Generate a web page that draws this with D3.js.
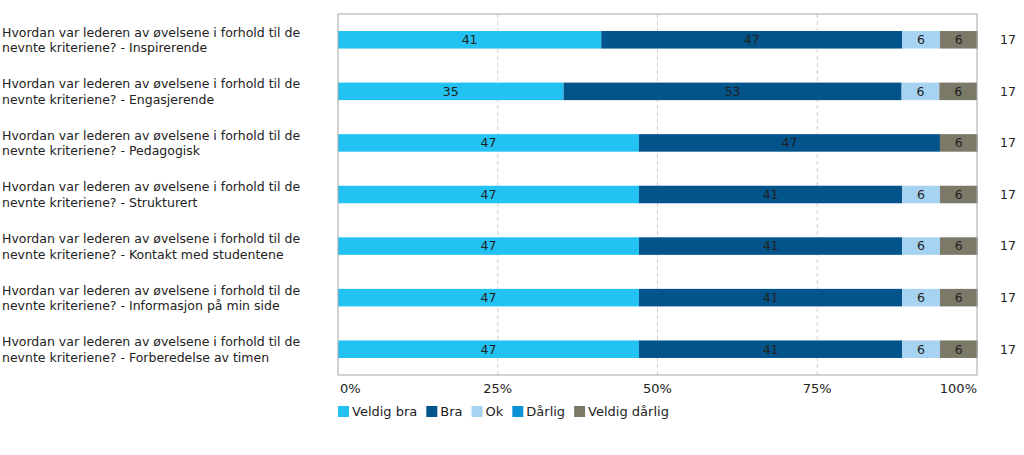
<!DOCTYPE html>
<html><head><meta charset="utf-8">
<script src="https://cdn.jsdelivr.net/npm/d3@7"></script>
<style>body{margin:0;background:#fff}svg{font-family:"DejaVu Sans",Verdana,sans-serif}</style>
</head><body><svg id="c" width="1024" height="455"></svg>
<script>
const categories = [
 ["Hvordan var lederen av øvelsene i forhold til de","nevnte kriteriene? - Inspirerende"],
 ["Hvordan var lederen av øvelsene i forhold til de","nevnte kriteriene? - Engasjerende"],
 ["Hvordan var lederen av øvelsene i forhold til de","nevnte kriteriene? - Pedagogisk"],
 ["Hvordan var lederen av øvelsene i forhold til de","nevnte kriteriene? - Strukturert"],
 ["Hvordan var lederen av øvelsene i forhold til de","nevnte kriteriene? - Kontakt med studentene"],
 ["Hvordan var lederen av øvelsene i forhold til de","nevnte kriteriene? - Informasjon på min side"],
 ["Hvordan var lederen av øvelsene i forhold til de","nevnte kriteriene? - Forberedelse av timen"]
];
const seriesNames = ["Veldig bra","Bra","Ok","Dårlig","Veldig dårlig"];
const colors = ["#22c3f3","#03548a","#a7d3f3","#0b93d8","#7b7a68"];
const veldigBra   = [41.2,35.3,47.1,47.1,47.1,47.1,47.1];
const bra         = [47.1,52.9,47.1,41.2,41.2,41.2,41.2];
const ok          = [5.9,5.9,0,5.9,5.9,5.9,5.9];
const darlig      = [0,0,0,0,0,0,0];
const veldigDarlig= [5.9,5.9,5.9,5.9,5.9,5.9,5.9];
const counts = [17,17,17,17,17,17,17];
const ticks = [0,25,50,75,100];
const tickLabels = ["0%","25%","50%","75%","100%"];

const series = [veldigBra,bra,ok,darlig,veldigDarlig];
const svg = d3.select("#c");
const L=338,R=977,T=14,B=375;
const x = d3.scaleLinear().domain([0,100]).range([L,R]);
const y = d3.scaleBand().domain(d3.range(categories.length)).range([T,B]).paddingInner(0.66).paddingOuter(0.33);

// grid
svg.append("g").selectAll("line").data(ticks.slice(1,-1)).join("line")
 .attr("x1",d=>x(d)).attr("x2",d=>x(d)).attr("y1",T).attr("y2",B)
 .attr("stroke","#d0d0d0").attr("stroke-dasharray","4,3");

// bars
categories.forEach((c,i)=>{
  let acc=0;
  series.forEach((s,j)=>{
    const v=s[i];
    if(v>0){
      svg.append("rect").attr("x",x(acc)).attr("width",x(acc+v)-x(acc))
        .attr("y",y(i)).attr("height",y.bandwidth()).attr("fill",colors[j]);
      svg.append("text").attr("x",(x(acc)+x(acc+v))/2).attr("y",y(i)+y.bandwidth()/2)
        .attr("dy","0.35em").attr("text-anchor","middle").attr("font-size",12.5)
        .attr("fill","#222").text(Math.round(v));
    }
    acc+=v;
  });
  const t=svg.append("text").attr("x",2).attr("y",y(i)+y.bandwidth()/2).attr("font-size",12.5).attr("fill","#222");
  t.append("tspan").attr("x",2).attr("dy","-0.25em").text(c[0]);
  t.append("tspan").attr("x",2).attr("dy","1.25em").text(c[1]);
  svg.append("text").attr("x",1000).attr("y",y(i)+y.bandwidth()/2).attr("dy","0.35em")
    .attr("font-size",12.5).attr("fill","#222").text(counts[i]);
});

// border
svg.append("rect").attr("x",L).attr("y",T).attr("width",R-L).attr("height",B-T)
 .attr("fill","none").attr("stroke","#a6a6a6");

// x tick labels
svg.append("g").selectAll("text").data(ticks).join("text")
 .attr("x",d=>x(d)+(d===0?2:0)).attr("y",393)
 .attr("text-anchor",(d,i)=>i===0?"start":(i===ticks.length-1?"end":"middle"))
 .attr("font-size",13).attr("fill","#222").text((d,i)=>tickLabels[i]);

// legend
let lx=L;
seriesNames.forEach((n,j)=>{
  svg.append("rect").attr("x",lx).attr("y",406).attr("width",11).attr("height",11).attr("fill",colors[j]);
  const t=svg.append("text").attr("x",lx+14).attr("y",416).attr("font-size",13).attr("fill","#222").text(n);
  lx+=14+t.node().getComputedTextLength()+9;
});
</script></body></html>
